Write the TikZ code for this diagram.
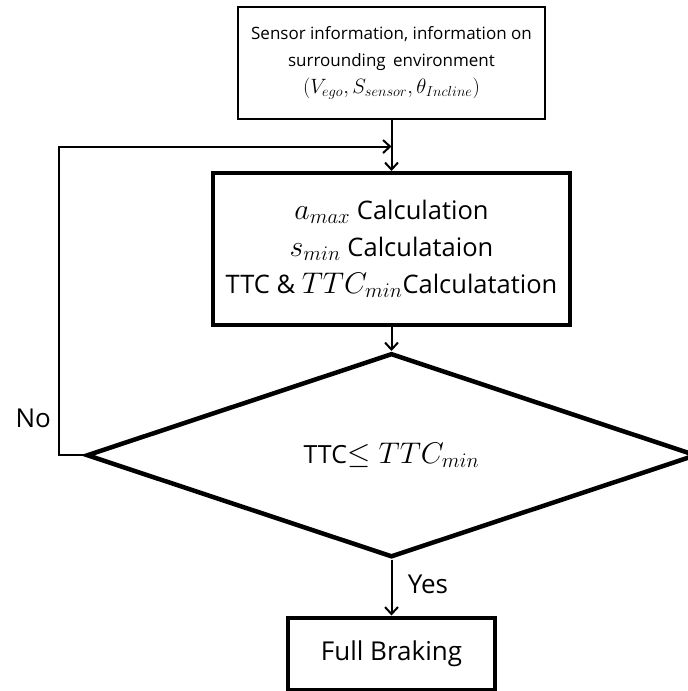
\documentclass[tikz,border=0pt]{standalone}
\usepackage{fontspec}
\setmainfont{Open Sans}
\usetikzlibrary{shapes.geometric,positioning,arrows.meta}

\newcommand{\mth}[1]{\scalebox{1.2}{$#1$}}

\begin{document}
\begin{tikzpicture}[x=1pt,y=-1pt,
	infobox/.style={draw,line width=2pt,inner sep=0pt,minimum width=307pt,minimum height=112pt,align=center,font=\fontsize{17}{27}\selectfont},
	calcbox/.style={draw,line width=4pt,inner sep=0pt,minimum width=357pt,minimum height=152pt,align=center,font=\fontsize{25.5}{37}\selectfont},
	decision/.style={draw,diamond,line width=4.5pt,inner sep=0pt,minimum width=610pt,minimum height=204pt,font=\fontsize{25}{30}\selectfont},
	endbox/.style={draw,line width=4pt,inner sep=0pt,minimum width=207pt,minimum height=72pt,font=\fontsize{26}{30}\selectfont},
	line/.style={line width=2pt,-{Straight Barb[length=7pt,width=13pt]}},
	lbl/.style={font=\fontsize{26}{30}\selectfont}]
	\useasboundingbox (0,0) rectangle (688,691);
	\node[infobox] (info) at (391.5,63) {Sensor information, information on\\surrounding\, environment\\\mth{(V_{ego},S_{sensor},\theta_{Incline})}};
	\node[calcbox] (calc) [below=51pt of info] {\mth{a_{max}} Calculation\\\mth{s_{min}} Calculataion\\TTC \& \mth{TTC_{min}}Calculatation};
	\node[decision] (check) [below=24pt of calc] {TTC\mth{\leq TTC_{min}}};
	\node[endbox] (brake) [below=56pt of check] {Full Braking};
	\path (info.south) -- (calc.north) coordinate[pos=0.52] (merge);
	\draw[line] (info) -- (calc);
	\draw[line] (calc) -- (check);
	\draw[line] (check) -- node[lbl,right=12pt,pos=0.45] {Yes} (brake);
	\draw[line] (check.west) -- ++(-25,0) |- node[lbl,left=4pt,pos=0.06] {No} (merge);
\end{tikzpicture}
\end{document}
